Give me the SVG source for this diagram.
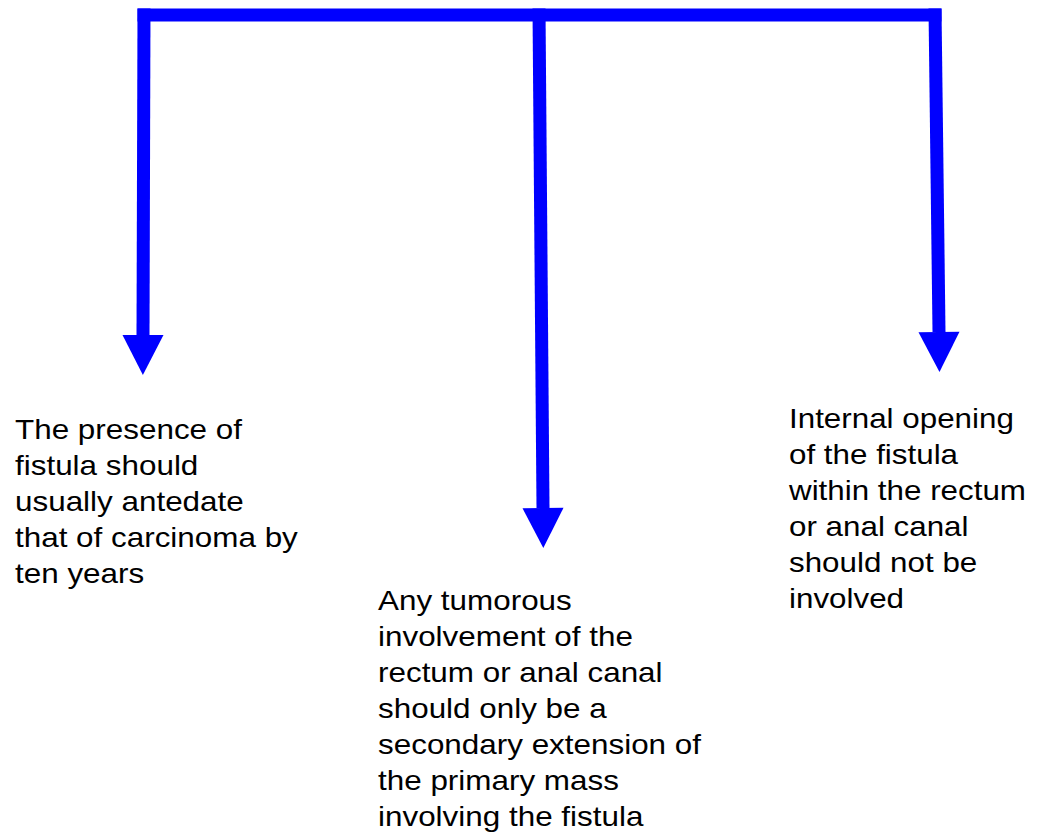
<svg xmlns="http://www.w3.org/2000/svg" width="1045" height="834" viewBox="0 0 1045 834">
<style>
.conn{stroke:#0000ff;stroke-width:13;fill:none;stroke-linecap:butt}
.lbl{font-family:"Liberation Sans",Arial,sans-serif;font-size:28px;fill:#000}
</style>
<defs>
<marker id="ah" markerUnits="userSpaceOnUse" markerWidth="42" markerHeight="42" refX="0" refY="20.5" orient="auto" overflow="visible">
<path d="M0,0 L40,20.5 L0,41 z" fill="#0000ff"/>
</marker>
</defs>
<rect width="1045" height="834" fill="#fff"/>
<g id="connectors">
<path class="conn" d="M137.5,15 L941.5,15"/>
<path class="conn" d="M144,8.5 L143,335" marker-end="url(#ah)"/>
<path class="conn" d="M539,8.5 L543,508" marker-end="url(#ah)"/>
<path class="conn" d="M935,8.5 L939,332" marker-end="url(#ah)"/>
</g>
<g id="node-left" transform="translate(15,0) scale(1.122,1)">
<text class="lbl" x="0" y="439">The presence of</text>
<text class="lbl" x="0" y="475">fistula should</text>
<text class="lbl" x="0" y="511">usually antedate</text>
<text class="lbl" x="0" y="547">that of carcinoma by</text>
<text class="lbl" x="0" y="583">ten years</text>
</g>
<g id="node-middle" transform="translate(378,0) scale(1.122,1)">
<text class="lbl" x="0" y="610">Any tumorous</text>
<text class="lbl" x="0" y="646">involvement of the</text>
<text class="lbl" x="0" y="682">rectum or anal canal</text>
<text class="lbl" x="0" y="718">should only be a</text>
<text class="lbl" x="0" y="754">secondary extension of</text>
<text class="lbl" x="0" y="790">the primary mass</text>
<text class="lbl" x="0" y="826">involving the fistula</text>
</g>
<g id="node-right" transform="translate(789,0) scale(1.12,1)">
<text class="lbl" x="0" y="428">Internal opening</text>
<text class="lbl" x="0" y="464">of the fistula</text>
<text class="lbl" x="0" y="500">within the rectum</text>
<text class="lbl" x="0" y="536">or anal canal</text>
<text class="lbl" x="0" y="572">should not be</text>
<text class="lbl" x="0" y="608">involved</text>
</g>
</svg>
